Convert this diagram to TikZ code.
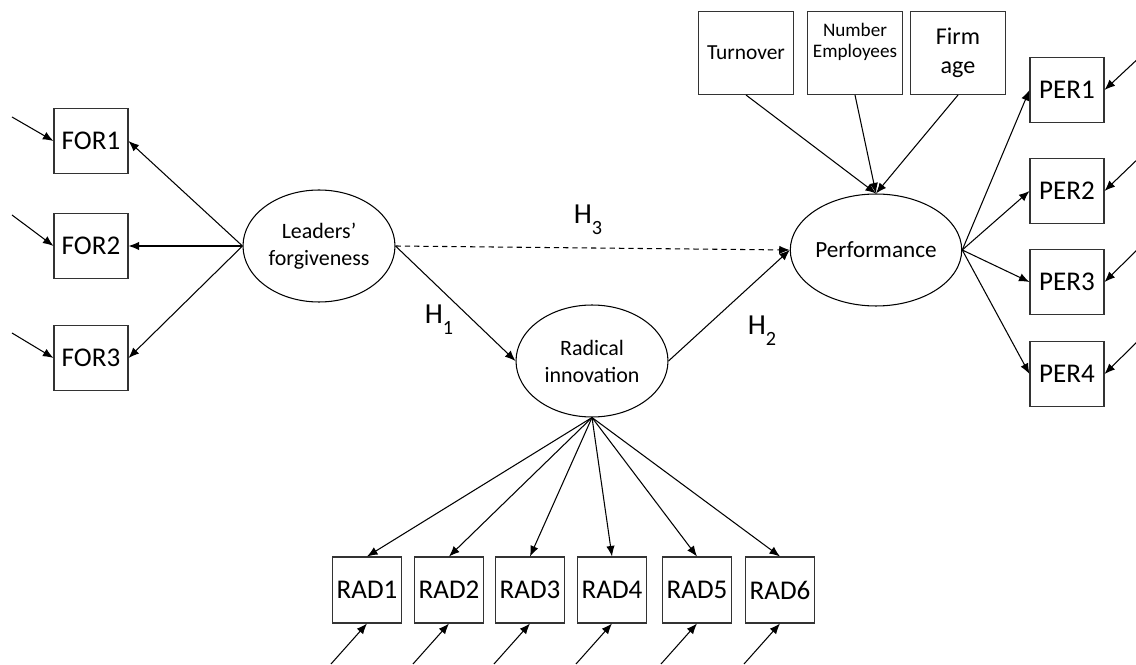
\documentclass[tikz,border=0pt]{standalone}
\usepackage{fontspec}
\setmainfont{Carlito}
\usetikzlibrary{shapes.geometric,arrows.meta}

\newcommand{\hsub}[1]{\raisebox{-6.3pt}{\fontsize{11.5}{12}\selectfont #1}}

\begin{document}
\begin{tikzpicture}[x=0.02cm, y=-0.02cm,
    indicator/.style={rectangle, draw=black!80, line width=0.6pt,
      minimum width=1.48cm, minimum height=1.3cm, inner sep=0pt,
      font=\fontsize{15.4}{18}\selectfont},
    radbox/.style={indicator, minimum width=1.38cm, minimum height=1.32cm},
    control/.style={rectangle, draw=black!80, line width=0.6pt,
      minimum width=1.9cm, minimum height=1.66cm, inner sep=0pt, align=center},
    construct/.style={ellipse, draw=black, line width=0.6pt,
      minimum width=3.04cm, minimum height=2.24cm, inner sep=0pt, align=center,
      font=\fontsize{12.5}{15.4}\selectfont},
    link/.style={-{Latex[length=6pt,width=4.8pt]}, line width=0.6pt},
    hyp/.style={inner sep=0pt, font=\fontsize{16.5}{18}\selectfont}]

\useasboundingbox (0,0) rectangle (1136,665);

% constructs
\node[construct] (forgive) at (319,246) {Leaders'\\forgiveness};
\node[construct] (radical) at (592,361) {Radical\\innovation};
\node[construct,
    font=\fontsize{13.2}{16}\selectfont] (perf) at (876,250) {Performance};

% forgiveness indicators
\node[indicator] (for1) at (91,141) {FOR1};
\node[indicator] (for2) at (91,246) {FOR2};
\node[indicator] (for3) at (91,358) {FOR3};

\coordinate (efor1) at (12,117);
\coordinate (efor2) at (12,215);
\coordinate (efor3) at (12,333);

% performance indicators
\node[indicator] (per1) at (1067,90) {PER1};
\node[indicator] (per2) at (1067,191) {PER2};
\node[indicator] (per3) at (1067,282) {PER3};
\node[indicator] (per4) at (1067,374) {PER4};

\coordinate (eper1) at (1142,55);
\coordinate (eper2) at (1142,155);
\coordinate (eper3) at (1142,245);
\coordinate (eper4) at (1142,337);

% controls
\node[control,
    font=\fontsize{12.2}{14}\selectfont] (turnover) at (746,53) {Turnover};
\node[control] (numemp) at (855,53) {};
\node[anchor=north, align=center, inner sep=0pt,
    font=\fontsize{10.9}{12}\selectfont] (numemptext) at (855,23) {Number\\Employees};
\node[control,
    font=\fontsize{13.7}{16.3}\selectfont] (firmage) at (958,53) {Firm\\age};

% radical innovation indicators
\node[radbox] (rad1) at (367,590) {RAD1};
\node[radbox] (rad2) at (449,590) {RAD2};
\node[radbox] (rad3) at (530,590) {RAD3};
\node[radbox] (rad4) at (612,590) {RAD4};
\node[radbox] (rad5) at (697,590) {RAD5};
\node[radbox] (rad6) at (780,590) {RAD6};

\coordinate (erad1) at (331,664);
\coordinate (erad2) at (413,664);
\coordinate (erad3) at (494,664);
\coordinate (erad4) at (576,664);
\coordinate (erad5) at (661,664);
\coordinate (erad6) at (744,664);

% loadings
\draw[link] (forgive.west) -- (for1.east);
\draw[link] (forgive.west) -- (for2.east);
\draw[link] (forgive.west) -- (for3.east);

\draw[link] (perf.east) -- (per1.west);
\draw[link] (perf.east) -- (per2.west);
\draw[link] (perf.east) -- (per3.west);
\draw[link] (perf.east) -- (per4.west);

\draw[link] (radical.south) -- (rad1.north);
\draw[link] (radical.south) -- (rad2.north);
\draw[link] (radical.south) -- (rad3.north);
\draw[link] (radical.south) -- (rad4.north);
\draw[link] (radical.south) -- (rad5.north);
\draw[link] (radical.south) -- (rad6.north);

% error terms
\draw[link] (efor1) -- (for1.west);
\draw[link] (efor2) -- (for2.west);
\draw[link] (efor3) -- (for3.west);

\draw[link] (eper1) -- (per1.east);
\draw[link] (eper2) -- (per2.east);
\draw[link] (eper3) -- (per3.east);
\draw[link] (eper4) -- (per4.east);

\draw[link] (erad1) -- (rad1.south);
\draw[link] (erad2) -- (rad2.south);
\draw[link] (erad3) -- (rad3.south);
\draw[link] (erad4) -- (rad4.south);
\draw[link] (erad5) -- (rad5.south);
\draw[link] (erad6) -- (rad6.south);

% control paths
\draw[link] (turnover.south) -- (perf.north);
\draw[link] (numemp.south) -- (perf.north);
\draw[link] (firmage.south) -- (perf.north);

% hypotheses
\draw[link] (forgive.east) -- (radical.west);
\draw[link] (radical.east) -- (perf.west);
\draw[link, dash pattern=on 3pt off 2.3pt] (forgive.east) -- (perf.west);

\node[hyp] (h1) at (439,320) {H\hsub{1}};
\node[hyp] (h2) at (762,331) {H\hsub{2}};
\node[hyp] (h3) at (588,220) {H\hsub{3}};

\end{tikzpicture}
\end{document}
